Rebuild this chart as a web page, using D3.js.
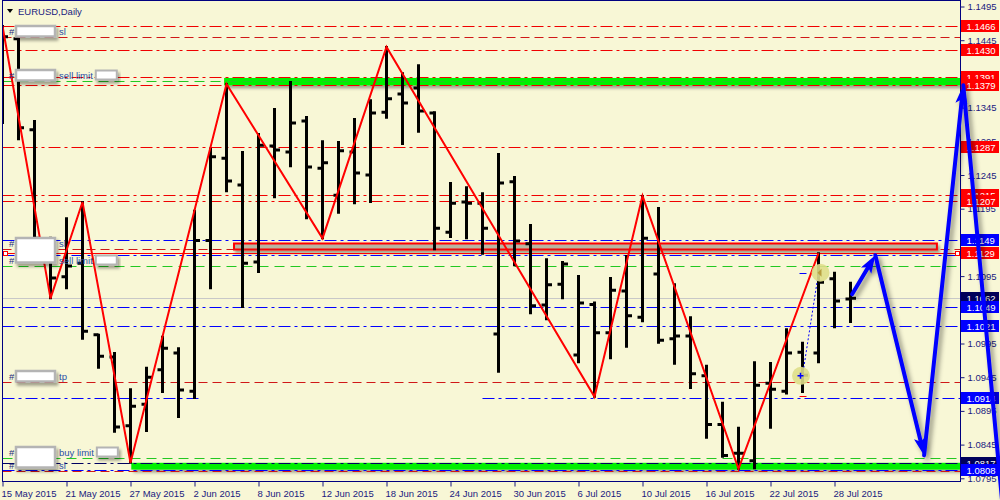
<!DOCTYPE html>
<html><head><meta charset="utf-8">
<script src="https://cdn.jsdelivr.net/npm/d3@7"></script>
<style>
html,body{margin:0;padding:0;background:#f8f7d6;}
svg{display:block;font-family:"Liberation Sans",Arial,sans-serif;}
</style></head><body>
<svg id="c" width="1000" height="500"></svg>
<script>
// ---------- data ----------
const dates = ["15 May 2015","18 May 2015","19 May 2015","20 May 2015","21 May 2015","22 May 2015","25 May 2015","26 May 2015","27 May 2015","28 May 2015","29 May 2015","1 Jun 2015","2 Jun 2015","3 Jun 2015","4 Jun 2015","5 Jun 2015","8 Jun 2015","9 Jun 2015","10 Jun 2015","11 Jun 2015","12 Jun 2015","15 Jun 2015","16 Jun 2015","17 Jun 2015","18 Jun 2015","19 Jun 2015","22 Jun 2015","23 Jun 2015","24 Jun 2015","25 Jun 2015","26 Jun 2015","29 Jun 2015","30 Jun 2015","1 Jul 2015","2 Jul 2015","3 Jul 2015","6 Jul 2015","7 Jul 2015","8 Jul 2015","9 Jul 2015","10 Jul 2015","13 Jul 2015","14 Jul 2015","15 Jul 2015","16 Jul 2015","17 Jul 2015","20 Jul 2015","21 Jul 2015","22 Jul 2015","23 Jul 2015","24 Jul 2015","27 Jul 2015","28 Jul 2015","29 Jul 2015"];
const open  = [1.1410,1.1447,1.1312,1.1143,1.1094,1.1114,1.1008,1.0975,1.0873,1.0905,1.0956,1.0981,1.0924,1.1148,1.1270,1.1230,1.1116,1.1288,1.1279,1.1325,1.1255,1.1215,1.1279,1.1245,1.1338,1.1365,1.1374,1.1337,1.1160,1.1205,1.1203,1.1009,1.1235,1.1143,1.1052,1.1083,1.0978,1.1053,1.1011,1.1073,1.1034,1.1098,1.1002,1.1006,1.0947,1.0875,1.0832,1.0821,1.0936,1.0924,1.0982,1.0981,1.1091,1.1061];
const high  = [1.1466,1.1447,1.1325,1.1152,1.1181,1.1205,1.1008,1.0981,1.0927,1.0959,1.1005,1.0988,1.1192,1.1284,1.1380,1.1279,1.1306,1.1343,1.1383,1.1331,1.1295,1.1294,1.1328,1.1356,1.1435,1.1396,1.1408,1.1338,1.1233,1.1227,1.1218,1.1276,1.1242,1.1171,1.1120,1.1116,1.1095,1.1056,1.1092,1.1125,1.1214,1.1196,1.1083,1.1034,1.0962,1.0907,1.0870,1.0967,1.0966,1.1016,1.0996,1.1129,1.1100,1.1085];
const low   = [1.1322,1.1298,1.1146,1.1062,1.1077,1.1002,1.0959,1.0864,1.0818,1.0865,1.0923,1.0886,1.0914,1.1077,1.1221,1.1049,1.1101,1.1212,1.1258,1.1181,1.1151,1.1189,1.1203,1.1205,1.1330,1.1291,1.1309,1.1135,1.1153,1.1151,1.1128,1.0953,1.1111,1.1040,1.1031,1.1062,1.0967,1.0916,1.0973,1.0990,1.1028,1.0996,1.0965,1.0929,1.0855,1.0827,1.0809,1.0810,1.0870,1.0921,1.0923,1.0967,1.1019,1.1027];
const close = [1.1450,1.1315,1.1151,1.1092,1.1110,1.1013,1.0976,1.0871,1.0902,1.0945,1.0988,1.0926,1.1148,1.1272,1.1236,1.1114,1.1289,1.1282,1.1322,1.1257,1.1263,1.1281,1.1248,1.1337,1.1358,1.1352,1.1340,1.1166,1.1203,1.1203,1.1166,1.1233,1.1147,1.1051,1.1082,1.1113,1.1055,1.1011,1.1074,1.1036,1.1151,1.1000,1.1006,1.0950,1.0875,1.0829,1.0832,1.0933,1.0927,1.0981,1.0948,1.1086,1.1058,1.1062];

const yTicks = [1.0795,1.0845,1.0895,1.0945,1.0995,1.1045,1.1095,1.1145,1.1195,1.1245,1.1295,1.1345,1.1395,1.1445,1.1495];
const xTickIdx = [0,4,8,12,16,20,24,28,32,36,40,44,48,52];
const zigzagIdx = [0,3,5,8,14,20,24,37,40,46,51];

const redLevels   = [1.1466,1.1430,1.1391,1.1379,1.1287,1.1215,1.1207];
const slTpLevels  = [1.1450,1.1135,1.0938,1.0806];
const blueLevels  = [1.1149,1.1127,1.1049,1.1021,1.0808];
const navyLevels  = [1.0817];
const greenLevels = [1.1385,1.1110,1.0825];
const entryLevel  = 1.1129;
const bidLevel    = 1.1062;
const splitLevel  = 1.0914;
const splitRanges = [[-1,12.28],[30.0,61]];

const tagsRed  = [1.1466,1.1430,1.1391,1.1379,1.1287,1.1215,1.1207,1.1129];
const tagsBlue = [1.1149,1.1049,1.1021,1.0914,1.0808];
const tagsNavy = [1.1062,1.0817];

const greenBands = [[13.85,1.1389,1.1378],[8.05,1.0818,1.0808]];
const grayRect = [14.47,58.4,1.1144,1.1135];

const orderRows = [[1.1450,"sl"],[1.1385,"sell limit"],[1.1135,"sl"],[1.1110,"sell limit"],[1.0938,"tp"],[1.0825,"buy limit"],[1.0806,"sl"]];
const redactGroups = [[0],[1],[2,3],[4],[5,6]];

const tradeOpen = [50,1.0947], tradeClose = [51,1.1100], tradeSL = 1.0917;
const arrowPath = [[53.1,1.1068],[54.55,1.1126],[57.6,1.0829],[60.05,1.1378],[62.6,1.0730]];

// ---------- scales ----------
const svg = d3.select("#c");
const x = d3.scaleLinear().domain([0,60]).range([2.5,962.5]);
const y = d3.scaleLinear().domain([1.0795,1.1495]).range([478.3,6.5]);
const yy = p => Math.round(y(p)) + 0.5;
const L = 2.5, R = 960.5, T = 0.5, B = 481.5;

const defs = svg.append("defs");
const f1 = defs.append("filter").attr("id","sh").attr("x","-10%").attr("y","-60%").attr("width","130%").attr("height","260%");
f1.append("feDropShadow").attr("dx",2).attr("dy",3).attr("stdDeviation",1.8).attr("flood-color","#000").attr("flood-opacity",0.35);
const f2 = defs.append("filter").attr("id","sh2").attr("x","-30%").attr("y","-30%").attr("width","160%").attr("height","160%");
f2.append("feDropShadow").attr("dx",3).attr("dy",3).attr("stdDeviation",2.5).attr("flood-color","#000").attr("flood-opacity",0.45);
defs.append("clipPath").attr("id","plot").append("rect").attr("x",L).attr("y",T).attr("width",R-L).attr("height",B-T);

svg.append("rect").attr("width",1000).attr("height",500).attr("fill","#f8f7d6");

const plot = svg.append("g").attr("clip-path","url(#plot)");

// bands / rectangles
plot.selectAll(".gb").data(greenBands).join("rect")
  .attr("x",d=>x(d[0])).attr("width",d=>R-x(d[0]))
  .attr("y",d=>y(d[1])).attr("height",d=>y(d[2])-y(d[1]))
  .attr("fill","#00f000").attr("filter","url(#sh)");
plot.append("rect")
  .attr("x",x(grayRect[0])).attr("width",x(grayRect[1])-x(grayRect[0]))
  .attr("y",yy(grayRect[2])).attr("height",yy(grayRect[3])-yy(grayRect[2]))
  .attr("fill","#b7b6a2").attr("stroke","#ff0000").attr("stroke-width",2).attr("filter","url(#sh)");

// horizontal levels
function hline(p, color, dash, x0=L, x1=R, w=1){
  plot.append("line").attr("x1",x0).attr("x2",x1).attr("y1",yy(p)).attr("y2",yy(p))
    .attr("stroke",color).attr("stroke-width",w).attr("stroke-dasharray",dash);
}
redLevels.forEach(p=>hline(p,"#f00000","12,4,3,4"));
slTpLevels.forEach(p=>hline(p,"#d01818","9,5"));
blueLevels.forEach(p=>hline(p,"#0000ff","12,4,3,4"));
navyLevels.forEach(p=>hline(p,"#000060","12,4,3,4"));
greenLevels.forEach(p=>hline(p,"#22c822","10,6"));
splitRanges.forEach(r=>hline(splitLevel,"#0000ff","12,4,3,4",Math.max(L,x(r[0])),Math.min(R,x(r[1]))));
hline(bidLevel,"#c8c8c8",null);
hline(entryLevel,"#ff0000",null);
[L+3,R-3].forEach(cx=>plot.append("rect").attr("x",cx-2).attr("y",yy(entryLevel)-2).attr("width",4).attr("height",4)
  .attr("fill","#fff").attr("stroke","#ff0000").attr("stroke-width",1));

// OHLC bars
const idx = d3.range(dates.length);
const bars = plot.append("g").attr("stroke","#000").attr("stroke-width",3);
bars.selectAll(".hl").data(idx).join("line")
  .attr("x1",i=>x(i)).attr("x2",i=>x(i)).attr("y1",i=>y(high[i])-1).attr("y2",i=>y(low[i])+1);
bars.selectAll(".op").data(idx).join("line")
  .attr("x1",i=>x(i)-5).attr("x2",i=>x(i)).attr("y1",i=>y(open[i])).attr("y2",i=>y(open[i]));
bars.selectAll(".cl").data(idx).join("line")
  .attr("x1",i=>x(i)).attr("x2",i=>x(i)+5.5).attr("y1",i=>y(close[i])).attr("y2",i=>y(close[i]));

// zigzag
const zz = zigzagIdx.map((i,k)=>[x(i), y(k%2===0?high[i]:low[i])]);
plot.append("path").attr("d",d3.line()(zz)).attr("fill","none").attr("stroke","#ff0000").attr("stroke-width",2);

// frame
svg.append("rect").attr("x",L).attr("y",T).attr("width",R-L).attr("height",B-T)
  .attr("fill","none").attr("stroke","#000080").attr("stroke-width",1);

// axes
const navy = "#1a1a80";
const ya = svg.append("g").attr("transform",`translate(${R},0)`)
  .call(d3.axisRight(y).tickValues(yTicks).tickSize(4).tickPadding(3).tickFormat(d3.format(".4f")));
ya.select(".domain").remove();
ya.selectAll("line").attr("stroke",navy);
ya.selectAll("text").attr("fill",navy).attr("font-size","9.5px").attr("font-family","Liberation Sans, Arial");

const xa = svg.append("g").attr("transform",`translate(0,${B})`)
  .call(d3.axisBottom(x).tickValues(xTickIdx).tickSize(5).tickFormat(i=>dates[i]));
xa.select(".domain").remove();
xa.selectAll("line").attr("stroke",navy);
xa.selectAll("text").attr("fill",navy).attr("font-size","9.5px").attr("font-family","Liberation Sans, Arial")
  .attr("text-anchor","start").attr("dx","-1.5").attr("y",9);

// right price tags
const tags = [...tagsRed.map(p=>[p,"#ff0000"]),...tagsBlue.map(p=>[p,"#0000ff"]),...tagsNavy.map(p=>[p,"#00005a"])]
  .sort((a,b)=>b[0]-a[0]);
const tg = svg.append("g");
tags.forEach(([p,c])=>{
  const cy = Math.round(y(p));
  tg.append("rect").attr("x",R+0.5).attr("y",cy-6).attr("width",38).attr("height",12).attr("fill",c);
  tg.append("text").attr("x",966.5).attr("y",cy+3.5).attr("fill","#fff").attr("font-size","9.5px").text(d3.format(".4f")(p));
});

// left order labels
const lab = svg.append("g");
const txtCol = "#2a50a8";
const baselines = orderRows.map(r=>Math.round(y(r[0]))-2.5);
redactGroups.forEach(g=>{
  const top = baselines[g[0]]-9, bot = baselines[g[g.length-1]]+(g.length>1?-1:2);
  lab.append("text").attr("x",9).attr("y",baselines[g[0]]).attr("fill","#1a2a80").attr("font-size","9.5px").text("#");
  if(g.length>1) lab.append("text").attr("x",9).attr("y",baselines[g[1]]).attr("fill","#1a2a80").attr("font-size","9.5px").text("#");
});
orderRows.forEach((r,k)=>{
  const t = lab.append("text").attr("x",59).attr("y",baselines[k]).attr("fill",txtCol).attr("font-size","9.5px").text(r[1]);
  if(r[1].indexOf("limit")>=0){
    const w = t.node().getComputedTextLength();
    lab.append("rect").attr("x",59+w+3).attr("y",baselines[k]-8).attr("width",21).attr("height",9)
      .attr("fill","#fff").attr("stroke","#b4b4b4").attr("stroke-width",2).attr("filter","url(#sh)");
  }
});
redactGroups.forEach(g=>{
  const top = baselines[g[0]]-8.5, bot = baselines[g[g.length-1]]+(g.length>1?-1:2);
  lab.append("rect").attr("x",16).attr("y",top).attr("width",39).attr("height",bot-top)
    .attr("fill","#fff").attr("stroke","#b4b4b4").attr("stroke-width",2.5).attr("filter","url(#sh)");
});

// trade markers
const tr = svg.append("g");
tr.append("line").attr("x1",x(tradeOpen[0])).attr("y1",y(tradeOpen[1])).attr("x2",x(tradeClose[0])).attr("y2",y(tradeClose[1]))
  .attr("stroke","#0000ff").attr("stroke-dasharray","2,2");
tr.append("line").attr("x1",x(tradeOpen[0])-3).attr("x2",x(tradeOpen[0])+4).attr("y1",yy(tradeClose[1])).attr("y2",yy(tradeClose[1])).attr("stroke","#0000ff");
tr.append("line").attr("x1",x(tradeOpen[0])-3).attr("x2",x(tradeOpen[0])+4).attr("y1",yy(tradeSL)).attr("y2",yy(tradeSL)).attr("stroke","#ff0000");
[[tradeOpen,-1.5],[tradeClose,2]].forEach(([t,dx])=>{
  tr.append("circle").attr("cx",x(t[0])+dx).attr("cy",y(t[1])).attr("r",9).attr("fill","#dede8a").attr("opacity",0.9);
});
tr.append("path").attr("d",`M${x(tradeClose[0])-1},${y(tradeClose[1])}l4,-4v8z`).attr("fill","#b8a040");
tr.append("path").attr("d",`M${x(tradeOpen[0])-5},${y(tradeOpen[1])}h6M${x(tradeOpen[0])-2},${y(tradeOpen[1])-3}v6`).attr("stroke","#0000ff").attr("stroke-width",1.5);

// blue arrows
const ar = svg.append("g").attr("filter","url(#sh2)");
for(let k=0;k<arrowPath.length-1;k++){
  const x0=x(arrowPath[k][0]), y0=y(arrowPath[k][1]), x1=x(arrowPath[k+1][0]), y1=y(arrowPath[k+1][1]);
  const a = Math.atan2(y1-y0,x1-x0), len=18, half=6;
  const bx = x1-len*Math.cos(a), by = y1-len*Math.sin(a);
  ar.append("line").attr("x1",x0).attr("y1",y0).attr("x2",bx+4*Math.cos(a)).attr("y2",by+4*Math.sin(a))
    .attr("stroke","#0000ff").attr("stroke-width",4).attr("stroke-linecap","round");
  const pts = [[x1,y1],[bx+half*Math.sin(a),by-half*Math.cos(a)],[bx+4*Math.cos(a),by+4*Math.sin(a)],[bx-half*Math.sin(a),by+half*Math.cos(a)]];
  ar.append("path").attr("d","M"+pts.map(p=>p.join(",")).join("L")+"Z").attr("fill","#0000ff");
}

// title
svg.append("path").attr("d","M7,9h6l-3,4z").attr("fill","#000");
svg.append("text").attr("x",18).attr("y",14.5).attr("fill",navy).attr("font-size","9.5px").text("EURUSD,Daily");
</script>
</body></html>
